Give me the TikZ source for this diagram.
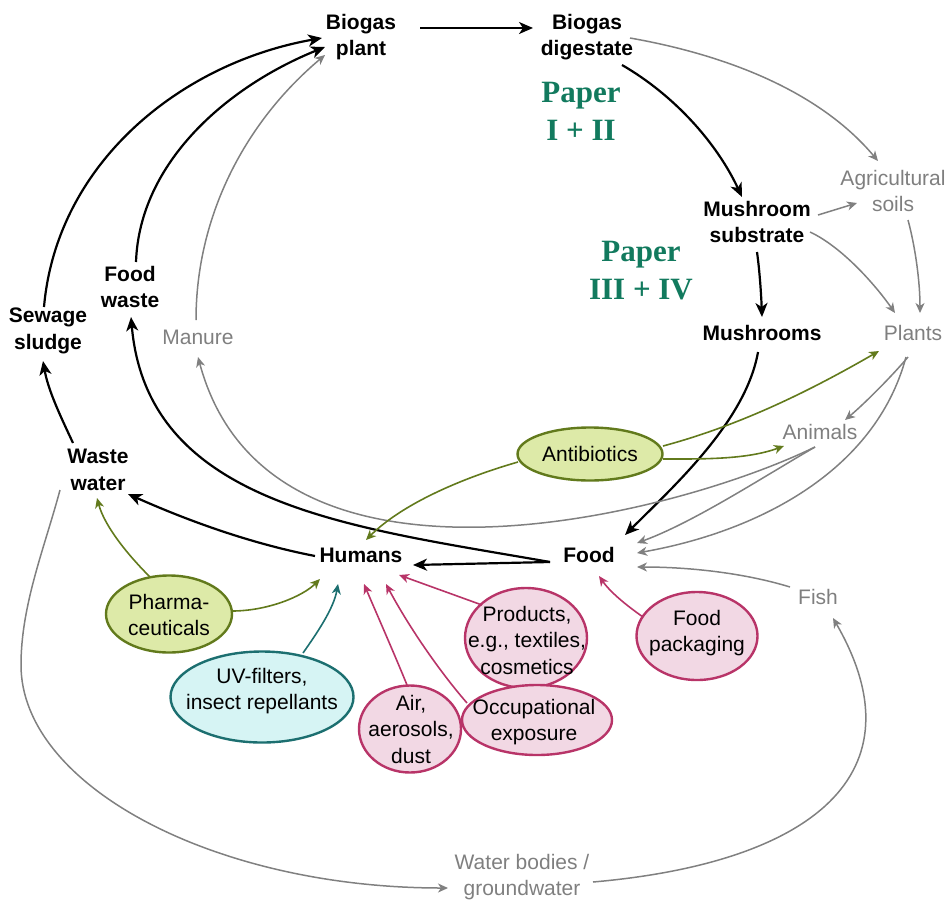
\documentclass[tikz,border=0pt]{standalone}
\usepackage{fontspec}
\setmainfont{Liberation Sans}
\newfontfamily\paperfont{Liberation Serif}
\usetikzlibrary{shapes.geometric,arrows.meta,calc}
\definecolor{lgray}{HTML}{808080}
\definecolor{tgray}{HTML}{7F7F7F}
\definecolor{olivec}{HTML}{627A1C}
\definecolor{olivef}{HTML}{DDEAA8}
\definecolor{tealc}{HTML}{1C6F70}
\definecolor{tealf}{HTML}{D6F4F4}
\definecolor{pinkc}{HTML}{B83468}
\definecolor{pinkf}{HTML}{F2D8E4}
\definecolor{paperc}{HTML}{127A5E}
\begin{document}
\begin{tikzpicture}[x=1pt,y=1pt,
 blab/.style={font=\bfseries\fontsize{21}{26.5}\selectfont, align=center, inner sep=0pt},
 glab/.style={font=\fontsize{21}{26.5}\selectfont, text=tgray, align=center, inner sep=0pt},
 plab/.style={font=\paperfont\bfseries\fontsize{31}{38}\selectfont, text=paperc, align=center, inner sep=0pt},
 etxt/.style={font=\fontsize{21}{26.5}\selectfont, align=center, inner sep=0pt},
 ell/.style={ellipse, line width=2.4pt, inner sep=0pt},
 oell/.style={ell, draw=olivec, fill=olivef},
 tell/.style={ell, draw=tealc, fill=tealf},
 pell/.style={ell, draw=pinkc, fill=pinkf},
 blk/.style={line width=2.2pt, -{Stealth[length=14pt,width=12pt,inset=4pt]}},
 gry/.style={draw=lgray, line width=1.5pt, -{Stealth[length=10pt,width=9pt,inset=3pt]}},
 olv/.style={draw=olivec, line width=1.6pt, -{Stealth[length=10pt,width=9pt,inset=3pt]}},
 tl/.style={draw=tealc, line width=1.6pt, -{Stealth[length=10pt,width=9pt,inset=3pt]}},
 pk/.style={draw=pinkc, line width=1.6pt, -{Stealth[length=10pt,width=9pt,inset=3pt]}},
]
\useasboundingbox (0,0) rectangle (949,-899);
% text nodes
\node[blab] (bplant) at (361,-37) {Biogas\\plant};
\node[blab] (bdig) at (587,-37) {Biogas\\digestate};
\node[plab] (p1) at (581,-111) {Paper\\I + II};
\node[blab] (msub) at (757,-222) {Mushroom\\substrate};
\node[plab] (p2) at (641,-271) {Paper\\III + IV};
\node[blab] (mush) at (762,-333) {Mushrooms};
\node[glab] (agri) at (893,-191) {Agricultural\\soils};
\node[glab] (plants) at (913,-333) {Plants};
\node[glab] (animals) at (820,-432) {Animals};
\node[glab] (manure) at (198,-337) {Manure};
\node[blab] (fwaste) at (130,-287) {Food\\waste};
\node[blab] (sludge) at (48,-331) {Sewage\\sludge};
\node[blab] (wwater) at (98,-470) {Waste\\water};
\node[blab] (humans) at (361,-555) {Humans};
\node[blab] (food) at (589,-555) {Food};
\node[glab] (fish) at (818,-597) {Fish};
\node[glab] (water) at (522,-877) {Water bodies /\\groundwater};
% ellipses
\node[oell, minimum width=145pt, minimum height=53pt] (antib) at (590,-454) {};
\node[etxt] (antibt) at (antib) {Antibiotics};
\node[oell, minimum width=126pt, minimum height=77pt] (pharma) at (169,-614) {};
\node[etxt] (pharmat) at (169,-615) {Pharma-\\ceuticals};
\node[tell, minimum width=183pt, minimum height=91pt] (uv) at (262,-697) {};
\node[etxt] (uvt) at (262,-691) {UV-filters,\\insect repellants};
\node[pell, minimum width=122pt, minimum height=100pt] (prod) at (526,-638) {};
\node[etxt] (prodt) at (527,-640) {Products,\\e.g., textiles,\\cosmetics};
\node[pell, minimum width=121pt, minimum height=88pt] (pack) at (697,-636) {};
\node[etxt] (packt) at (697,-633) {Food\\packaging};
\node[pell, minimum width=102pt, minimum height=87pt] (air) at (410,-729) {};
\node[etxt] (airt) at (411,-729) {Air,\\aerosols,\\dust};
\node[pell, minimum width=150pt, minimum height=70pt] (occ) at (537,-720) {};
\node[etxt] (occt) at (534,-722) {Occupational\\exposure};
% black flows
\draw[blk] ($(bplant)+(59,9)$) -- ($(bdig)+(-54,9)$);
\draw[blk] ($(bdig)+(35,-28)$) .. controls +(-30:60) and +(115:60) .. ($(msub)+(-15,25)$);
\draw[blk] ($(msub)+(0,-30)$) .. controls +(-82:20) and +(92:20) .. ($(mush)+(0,16)$);
\draw[blk] ($(mush)+(-4,-19)$) .. controls +(-100:70) and +(45:70) .. ($(food)+(36,20)$);
\draw[blk] ($(food)+(-39,-7)$) -- ($(humans)+(52,-10)$);
\draw[blk] ($(food)+(-39,-7)$) .. controls +(170:200) and +(-85:190) .. ($(fwaste)+(1,-30)$);
\draw[blk] ($(humans)+(-46,-1)$) .. controls +(169:70) and +(-24:60) .. ($(wwater)+(30,-24)$);
\draw[blk] ($(wwater)+(-25,27)$) .. controls +(115:30) and +(-80:30) .. ($(sludge)+(-5,-30)$);
\draw[blk] ($(sludge)+(-4,24)$) .. controls +(85:144) and +(-170:144) .. ($(bplant)+(-39,-1)$);
\draw[blk] ($(fwaste)+(6,25)$) .. controls +(88:100) and +(-158:105) .. ($(bplant)+(-36,-10)$);
% gray flows
\draw[gry] ($(manure)+(-2,17)$) .. controls +(90:105) and +(-140:103) .. ($(bplant)+(-36,-18)$);
\draw[gry] ($(bdig)+(43,-1)$) .. controls +(-10:100) and +(130:90) .. ($(agri)+(-15,30)$);
\draw[gry] ($(msub)+(61,7)$) -- ($(agri)+(-36,-12)$);
\draw[gry] ($(msub)+(53,-10)$) .. controls +(-25:35) and +(125:35) .. ($(plants)+(-18,20)$);
\draw[gry] ($(agri)+(15,-29)$) .. controls +(-75:30) and +(90:30) .. ($(plants)+(7,20)$);
\draw[gry] ($(plants)+(-5,-24)$) .. controls +(-130:25) and +(40:25) .. ($(animals)+(25,12)$);
\draw[gry] ($(plants)+(-7,-24)$) .. controls +(-105:120) and +(10:120) .. ($(food)+(48,2)$);
\draw[gry] ($(animals)+(-5,-15)$) .. controls +(-150:60) and +(20:60) .. ($(food)+(48,12)$);
\draw[gry] ($(animals)+(-5,-15)$) .. controls +(-154:157) and +(-75:272) .. ($(manure)+(0,-20)$);
\draw[gry] ($(fish)+(-28,10)$) .. controls +(163:50) and +(0:50) .. ($(food)+(48,-12)$);
\draw[gry] ($(water)+(71,-5)$) .. controls +(5:220) and +(-60:180) .. ($(fish)+(15,-21)$);
\draw[gry] ($(wwater)+(-38,-20)$) .. controls +(-105:60) and +(90:60) .. ($(wwater)+(-77,-195)$) .. controls +(-90:120) and +(180:235) .. ($(water)+(-74,-11)$);
% olive
\draw[olv] ($(antib)+(73,8)$) .. controls +(15:80) and +(-150:80) .. ($(plants)+(-34,-18)$);
\draw[olv] ($(antib)+(73,-5)$) .. controls +(0:40) and +(-160:40) .. ($(animals)+(-36,-14)$);
\draw[olv] ($(antib)+(-72,-8)$) .. controls +(196:60) and +(45:50) .. ($(humans)+(5,15)$);
\draw[olv] ($(pharma)+(-19,37)$) .. controls +(135:30) and +(-75:30) .. ($(wwater)+(-1,-28)$);
\draw[olv] ($(pharma)+(63,3)$) .. controls +(0:35) and +(-135:25) .. ($(humans)+(-41,-24)$);
% teal
\draw[tl] ($(uv)+(41,44)$) .. controls +(55:25) and +(-100:25) .. ($(humans)+(-23,-29)$);
% pink
\draw[pk] ($(air)+(-3,44)$) .. controls +(112:30) and +(-67:30) .. ($(humans)+(3,-29)$);
\draw[pk] ($(occ)+(-70,17)$) .. controls +(131:45) and +(-62:45) .. ($(humans)+(25,-29)$);
\draw[pk] ($(prod)+(-44,33)$) -- ($(humans)+(38,-20)$);
\draw[pk] ($(pack)+(-54,19)$) .. controls +(145:20) and +(-55:20) .. ($(food)+(10,-21)$);
\end{tikzpicture}
\end{document}
